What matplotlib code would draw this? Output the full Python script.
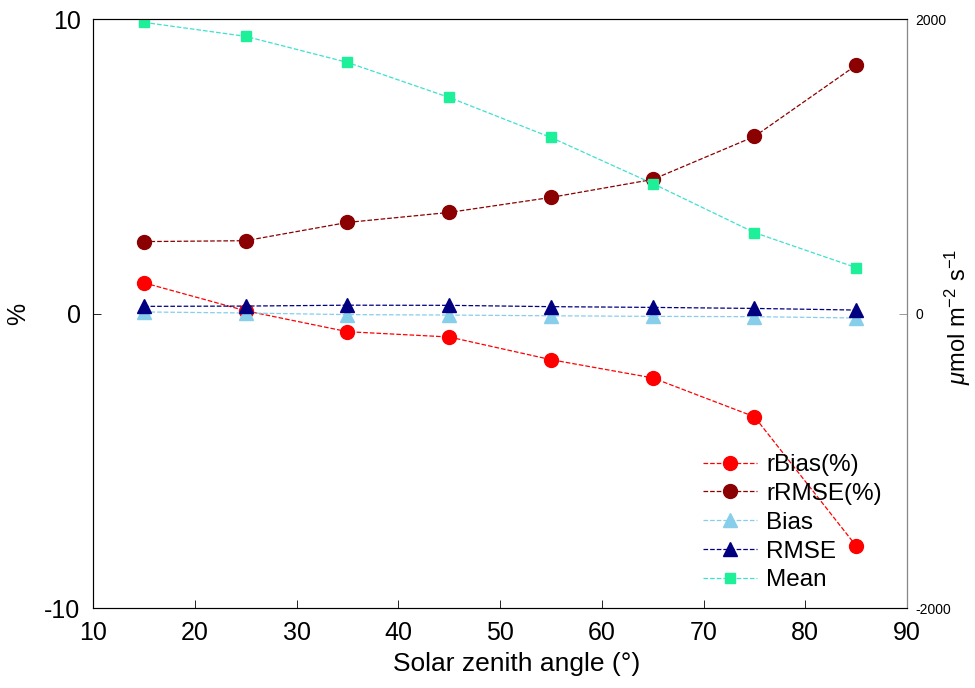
import matplotlib.pyplot as plt

plt.rcParams['font.family'] = ['Liberation Sans', 'DejaVu Sans']
plt.rcParams['axes.unicode_minus'] = False
plt.rcParams['mathtext.fontset'] = 'custom'
plt.rcParams['mathtext.rm'] = 'Liberation Sans'
plt.rcParams['mathtext.it'] = 'Liberation Sans:italic'

sza = [15, 25, 35, 45, 55, 65, 75, 85]
rbias = [1.05, 0.1, -0.61, -0.79, -1.56, -2.18, -3.5, -7.89]
rrmse = [2.45, 2.48, 3.1, 3.44, 3.95, 4.56, 6.02, 8.44]
bias = [12, 5, -6, -9, -14, -18, -20, -29]
rmse = [50, 52, 58, 57, 48, 43, 36, 25]
mean = [1979, 1884, 1707, 1469, 1197, 884, 551, 313]

fig = plt.figure(figsize=(9.75, 6.88), dpi=100)
ax = fig.add_axes([0.0954, 0.116, 0.835, 0.856])
ax2 = ax.twinx()

l1, = ax.plot(sza, rbias, '--o', color='#ff0000', lw=0.9, ms=10,
              mfc='#ff0000', mec='#ff0000', label='rBias(%)', zorder=3)
l2, = ax.plot(sza, rrmse, '--o', color='#8b0000', lw=0.9, ms=10,
              mfc='#8b0000', mec='#8b0000', label='rRMSE(%)', zorder=3)
l3, = ax2.plot(sza, bias, '--^', color='#87ceeb', lw=0.9, ms=10,
               mfc='#87ceeb', mec='#87ceeb', label='Bias')
l4, = ax2.plot(sza, rmse, '--^', color='#000080', lw=0.9, ms=10,
               mfc='#000080', mec='#000080', label='RMSE')
l5, = ax2.plot(sza, mean, '--s', color='#40e0d0', lw=0.9, ms=7,
               mfc='#1ef09a', mec='#1ef09a', label='Mean')

ax.set_xlim(10, 90)
ax.set_ylim(-10, 10)
ax.set_xticks(range(10, 91, 10))
ax.set_yticks([-10, 0, 10])
ax2.set_ylim(-2000, 2000)
ax2.set_yticks([-2000, 0, 2000])

ax.tick_params(axis='both', direction='in', labelsize=18, length=6, width=0.6)
ax.tick_params(axis='y', pad=9)
ax.tick_params(axis='x', pad=9)
ax2.tick_params(axis='y', direction='in', labelsize=10, length=6, width=0.6,
                color='#888888', pad=6)

for s in ax.spines.values():
    s.set_color('#444444')
    s.set_linewidth(0.8)
ax2.spines['right'].set_color('#888888')

ax.set_xlabel('Solar zenith angle (°)', fontsize=19)
ax.xaxis.set_label_coords(0.52, -0.075)
ax.set_ylabel('%', fontsize=18)
ax.yaxis.set_label_coords(-0.077, 0.5)
fig.text(0.982, 0.54, r'$\mathit{\mu}$mol m$^{-2}$ s$^{-1}$', fontsize=17,
         rotation=90, ha='center', va='center')

ax2.legend(handles=[l1, l2, l3, l4, l5], loc='lower right', frameon=False,
           fontsize=17.5, bbox_to_anchor=(0.981, 0.012), borderaxespad=0,
           handlelength=2.2, handletextpad=0.4, labelspacing=0.28)

fig.savefig('out.png', dpi=100)
